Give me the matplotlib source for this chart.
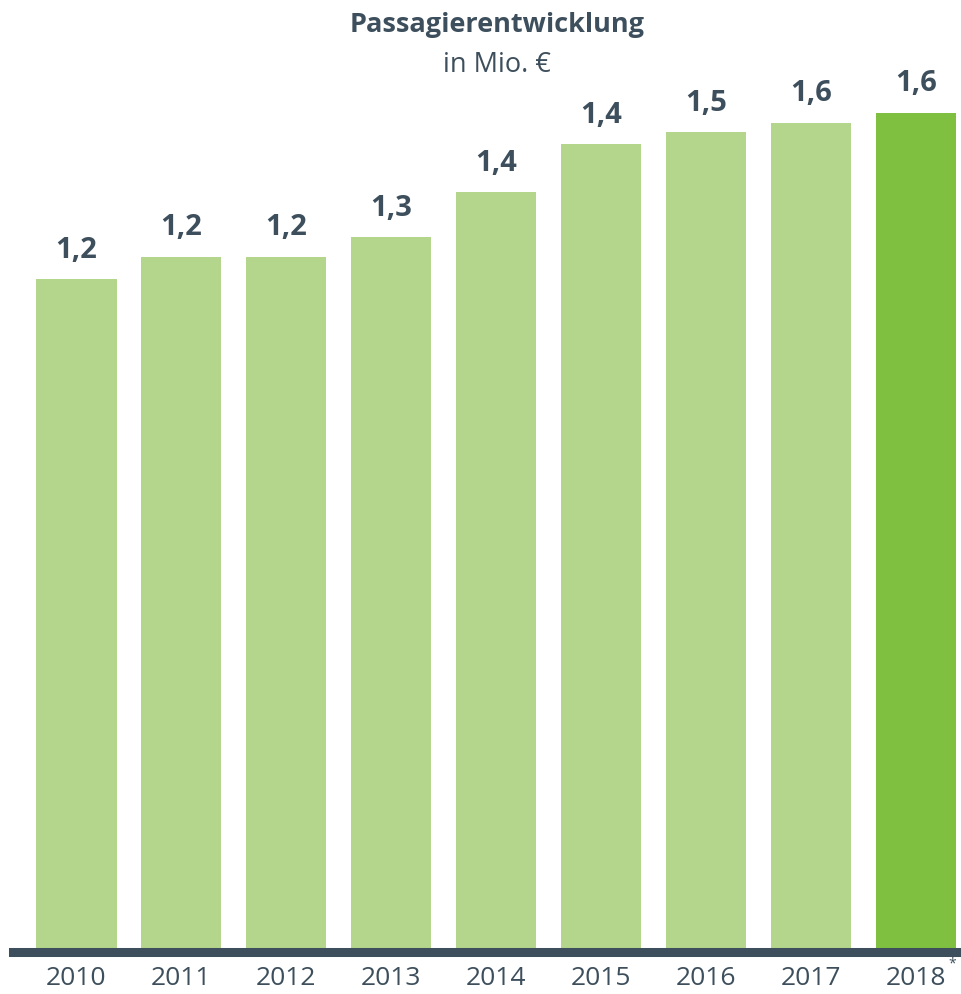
import numpy as np
from matplotlib import pyplot as plt

# Passagierentwicklung, Werte aus der Grafik geschätzt
years = ["2010", "2011", "2012", "2013", "2014", "2015", "2016", "2017", "2018"]
values = [1.299, 1.342, 1.342, 1.380, 1.467, 1.560, 1.583, 1.601, 1.620]
labels = ["1,2", "1,2", "1,2", "1,3", "1,4", "1,4", "1,5", "1,6", "1,6"]

light = "#b3d58c"
dark = "#80c041"
slate = "#3d4f5c"

plt.rcParams['font.family'] = ['Open Sans', 'DejaVu Sans']

W, H = 961, 994
fig = plt.figure(figsize=(W / 100, H / 100), dpi=100)
base = 951.5
ax = fig.add_axes([13 / W, (H - base) / H, 948 / W, base / H])

x = np.arange(len(years))
colors = [light] * (len(years) - 1) + [dark]
ax.bar(x, values, width=0.763, color=colors, zorder=2)

for xi, v, lab in zip(x, values, labels):
    ax.text(xi, v + 0.028, lab, ha="center", va="bottom", fontsize=21,
            fontweight="bold", color=slate)

ax.set_xlim(-0.605, 8.43)
ax.set_ylim(0, base * 0.001932)

for s in ["top", "right", "left"]:
    ax.spines[s].set_visible(False)
ax.spines["bottom"].set_color(slate)
ax.spines["bottom"].set_linewidth(6.5)
ax.spines["bottom"].set_zorder(5)
ax.set_yticks([0])
ax.set_yticklabels([""])
ax.tick_params(axis="y", length=3, width=1, color="#9aa3a8")
ax.set_xticks(x)
ax.set_xticklabels(years, fontsize=19, color=slate)
ax.tick_params(axis="x", length=0, pad=10.5)
ax.get_xticklabels()[-1].set_x(8 - 0.05)

# Sternchen bei 2018
ax.annotate("*", xy=(8, 0), xycoords="data", xytext=(26, -9),
            textcoords="offset points", fontsize=10, color=slate,
            ha="center", va="center", annotation_clip=False)

fig.text(497 / W, 1 - 32 / H, "Passagierentwicklung", ha="center",
         va="baseline", fontsize=19.5, fontweight="bold", color=slate)
fig.text(497 / W, 1 - 72 / H, "in Mio. €", ha="center", va="baseline",
         fontsize=19.5, color=slate)

plt.savefig("out.png", dpi=100)
